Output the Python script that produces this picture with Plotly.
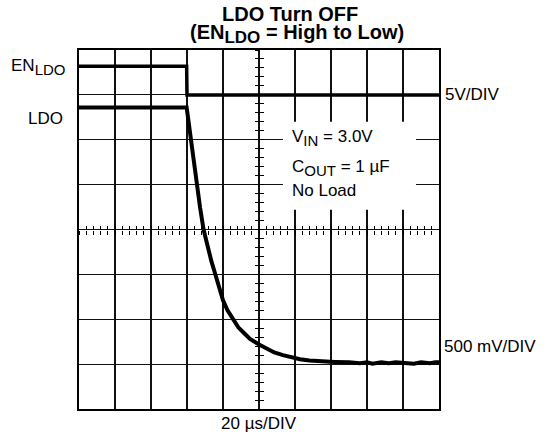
import plotly.graph_objects as go

# ---- data ----
# time in microseconds (20 us/DIV, 10 DIV)
en_t = [0, 59.8, 60.0, 200]
en_v = [3.2, 3.2, 0.0, 0.0]           # volts, 5 V/DIV

ldo_t = [0, 20, 40, 59.8, 61.0, 62.1, 63.7, 65.4, 67.3, 69.2, 71.5, 73.5, 75.6,
         78.0, 80.0, 82.5, 85.6, 88.5, 91.5, 95.0, 99.5, 104.3, 108.5, 113.3,
         118.0, 122.8, 128.0, 134.0, 142.0, 150.0, 156.0, 160.0, 163.0, 168.0,
         172.0, 176.0, 182.0, 186.0, 190.0, 195.0, 198.0, 200.0]
ldo_v = [2.86, 2.86, 2.86, 2.86, 2.68, 2.50, 2.25, 2.00, 1.74, 1.50, 1.30, 1.15, 1.01,
         0.84, 0.71, 0.60, 0.50, 0.41, 0.35, 0.28, 0.225, 0.17, 0.13, 0.10,
         0.075, 0.055, 0.04, 0.03, 0.025, 0.02, 0.01, 0.02, 0.005, 0.02,
         0.01, 0.02, 0.015, 0.005, 0.02, 0.01, 0.02, 0.02]   # volts, 500 mV/DIV

x_range = [0, 200]        # 10 DIV x 20 us
en_range = [-35, 5]       # 8 DIV x 5 V
ldo_range = [-0.5, 3.5]   # 8 DIV x 0.5 V

FONT = "Liberation Sans, Arial, Helvetica, sans-serif"

fig = go.Figure()

fig.add_trace(go.Scatter(x=en_t, y=en_v, mode="lines", yaxis="y",
                         line=dict(color="black", width=3.5),
                         hoverinfo="skip", showlegend=False))
fig.add_trace(go.Scatter(x=ldo_t, y=ldo_v, mode="lines", yaxis="y2",
                         line=dict(color="black", width=4),
                         hoverinfo="skip", showlegend=False))
# dummy traces to register the centre-tick axes
for xa, ya in [("x2", "y"), ("x3", "y"), ("x", "y3"), ("x", "y4")]:
    fig.add_trace(go.Scatter(x=[None], y=[None], xaxis=xa, yaxis=ya, mode="lines",
                             hoverinfo="skip", showlegend=False))

grid = dict(showgrid=True, gridcolor="#111111", gridwidth=1.2,
            showticklabels=False, ticks="", zeroline=False,
            showline=True, linecolor="black", linewidth=2, mirror=True,
            fixedrange=True)

centre_x = dict(overlaying="x", anchor="free", position=0.5, range=x_range,
                tickmode="linear", tick0=0, dtick=4, ticklen=4, tickwidth=1,
                tickcolor="black", showticklabels=False, showgrid=False,
                showline=False, zeroline=False, fixedrange=True)
centre_y = dict(overlaying="y", anchor="free", position=0.5, range=en_range,
                tickmode="linear", tick0=0, dtick=1, ticklen=4, tickwidth=1,
                tickcolor="black", showticklabels=False, showgrid=False,
                showline=False, zeroline=False, fixedrange=True)

fig.update_layout(
    width=545, height=440,
    margin=dict(l=79, r=106, t=50, b=31),
    paper_bgcolor="white", plot_bgcolor="white",
    font=dict(family=FONT, color="black", size=16),
    xaxis=dict(range=x_range, tickmode="linear", tick0=0, dtick=20, **grid),
    yaxis=dict(range=en_range, tickmode="linear", tick0=0, dtick=5, **grid),
    yaxis2=dict(range=ldo_range, overlaying="y", visible=False, fixedrange=True),
    xaxis2=dict(ticks="outside", side="bottom", **centre_x),
    xaxis3=dict(ticks="inside", side="bottom", **centre_x),
    yaxis3=dict(ticks="outside", side="left", **centre_y),
    yaxis4=dict(ticks="inside", side="left", **centre_y),
)

# white box behind the condition text (interrupts the grid)
fig.add_shape(type="rect", xref="x", yref="y", x0=113.3, x1=187.2, y0=-12.8, y1=-3.0,
              fillcolor="white", line=dict(width=0), layer="above")

sub = lambda s, px: f"<sub><span style='font-size:{px}px'>{s}</span></sub>"

ann = []
# title
ann.append(dict(text="<b>LDO Turn OFF</b>", xref="paper", yref="paper",
                x=0.585, y=1, yshift=36, xanchor="center", yanchor="middle",
                showarrow=False, font=dict(size=20)))
ann.append(dict(text="<b>(EN" + sub("LDO", 17) + " = High to Low)</b>", xref="paper",
                yref="paper", x=0.605, y=1, yshift=16, xanchor="center",
                yanchor="middle", showarrow=False, font=dict(size=20)))
# channel labels
ann.append(dict(text="EN" + sub("LDO", 15), xref="paper", yref="y", x=0, y=3.2,
                xanchor="right", yanchor="middle", xshift=-12, yshift=-1,
                showarrow=False, font=dict(size=17)))
ann.append(dict(text="LDO", xref="paper", yref="y2", x=0, y=2.86,
                xanchor="right", yanchor="middle", xshift=-14, yshift=-11,
                showarrow=False, font=dict(size=17)))
ann.append(dict(text="5V/DIV", xref="paper", yref="y", x=1, y=0,
                xanchor="left", yanchor="middle", xshift=4,
                showarrow=False, font=dict(size=17)))
ann.append(dict(text="500 mV/DIV", xref="paper", yref="y2", x=1, y=0,
                xanchor="left", yanchor="middle", xshift=3, yshift=18,
                showarrow=False, font=dict(size=17)))
ann.append(dict(text="20 µs/DIV", xref="paper", yref="paper", x=0.5, y=0,
                xanchor="center", yanchor="middle", yshift=-14,
                showarrow=False, font=dict(size=17)))
# conditions
ann.append(dict(text="V" + sub("IN", 15) + " = 3.0V", xref="x", yref="y", x=117,
                y=-4.8, xanchor="left", yanchor="middle", showarrow=False,
                font=dict(size=17)))
ann.append(dict(text="C" + sub("OUT", 15) + " = 1 µF", xref="x", yref="y", x=117,
                y=-8.2, xanchor="left", yanchor="middle", showarrow=False,
                font=dict(size=17)))
ann.append(dict(text="No Load", xref="x", yref="y", x=117, y=-10.6,
                xanchor="left", yanchor="middle", showarrow=False,
                font=dict(size=17)))
fig.update_layout(annotations=ann)

# remove the browser's default 8px page margin so the figure fills the window
fig.write_html("out.html",
               config={"displayModeBar": False, "staticPlot": True},
               post_script="document.body.style.margin='0px';document.body.style.overflow='hidden';")
